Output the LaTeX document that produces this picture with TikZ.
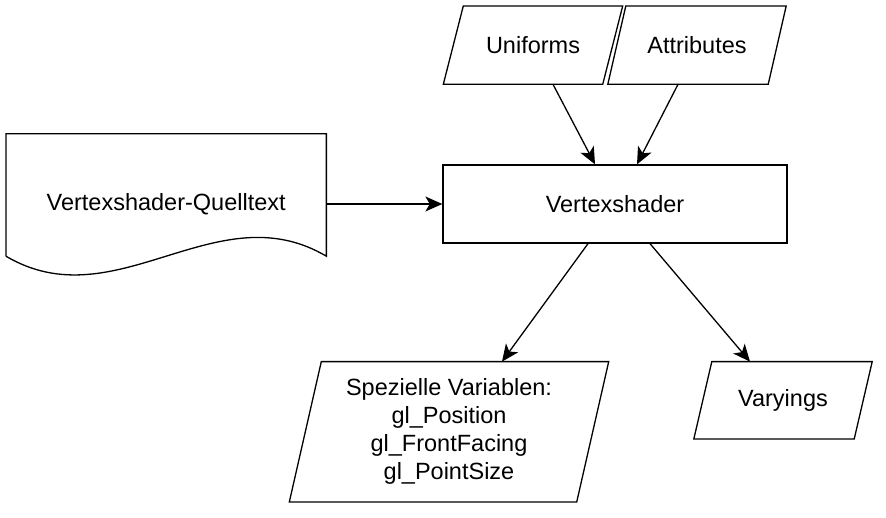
\documentclass[tikz,border=0pt]{standalone}
\usepackage{fontspec}
\setmainfont{Liberation Sans}
\usetikzlibrary{arrows.meta,positioning}

\begin{document}
\begin{tikzpicture}[>={Stealth[length=17pt,width=15pt,inset=4.5pt]},
    font=\fontsize{23.5}{28}\selectfont,
    shader/.style={draw, line width=1.3pt, minimum width=344pt, minimum height=78pt},
    source/.style={minimum width=320pt, minimum height=140pt},
    iodata/.style={align=center, inner sep=0pt}]
    \useasboundingbox (0,0) rectangle (886pt,518pt);
    % Nodes (shader stage and its inputs)
    \node[shader] (vs) at (615pt,314pt) {Vertexshader};
    \node[source, left=116pt of vs] (src) {Vertexshader-Quelltext};
    \node[iodata, minimum width=159pt, minimum height=78pt, above=80pt of vs, xshift=-82pt] (uni) {Uniforms};
    \node[iodata, minimum width=160pt, minimum height=78pt, above=80pt of vs, xshift=82pt] (attr) {Attributes};
    % Outputs
    \node[iodata, minimum width=287pt, minimum height=140pt, below=118pt of vs, xshift=-166pt] (spez) {Spezielle Variablen:\\gl\_Position\\gl\_FrontFacing\\gl\_PointSize};
    \node[iodata, minimum width=160pt, minimum height=77pt, below=118pt of vs, xshift=168pt] (vary) {Varyings};
    % Parallelogram outlines of the data nodes
    \foreach \n/\s in {uni/10pt, attr/9pt, spez/16pt, vary/9pt}
        \draw[line width=1.3pt] ([xshift=-\s]\n.south west) -- ([xshift=-\s]\n.south east)
            -- ([xshift=\s]\n.north east) -- ([xshift=\s]\n.north west) -- cycle;
    % Document outline of the source
    \draw[line width=1.3pt] ([yshift=18pt]src.south west) -- (src.north west) -- (src.north east) -- ([yshift=18pt]src.south east)
        .. controls +(-110pt,65pt) and +(110pt,-65pt) .. ([yshift=18pt]src.south west);
    % Arrows
    \draw[->, line width=1.3pt] (src) -- (vs);
    \draw[->, line width=1.3pt] ([xshift=20pt]uni.south) -- ([xshift=-20pt]vs.north);
    \draw[->, line width=1.3pt] ([xshift=-19pt]attr.south) -- ([xshift=22pt]vs.north);
    \draw[->, line width=1.3pt] ([xshift=-27pt]vs.south) -- ([xshift=53pt]spez.north);
    \draw[->, line width=1.3pt] ([xshift=35pt]vs.south) -- ([xshift=-33pt]vary.north);
\end{tikzpicture}
\end{document}
